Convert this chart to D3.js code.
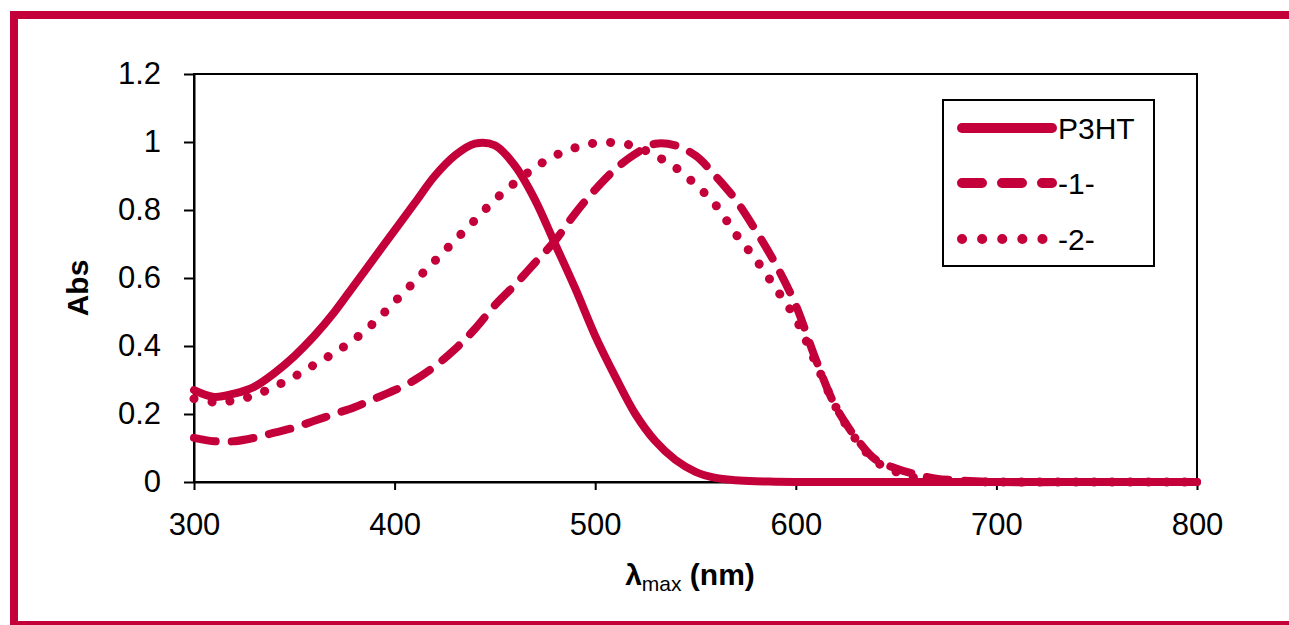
<!DOCTYPE html>
<html>
<head>
<meta charset="utf-8">
<script src="https://cdn.jsdelivr.net/npm/d3@7"></script>
<style>
  body { margin: 0; background: #fff; }
  svg { display: block; font-family: "Liberation Sans", Arial, sans-serif; }
</style>
</head>
<body>
<script>
// wavelength grid (nm) and absorbance of each sample
const wavelengths = [300, 310, 320, 330, 340, 350, 360, 370, 380, 390, 400, 410, 420, 430, 440, 450,
  460, 470, 480, 490, 500, 510, 520, 530, 540, 550, 560, 570, 580, 590, 600, 610, 620, 630, 640,
  650, 660, 670, 680, 700, 750, 800];
const p3ht = [0.27, 0.25, 0.26, 0.28, 0.32, 0.37, 0.43, 0.50, 0.58, 0.66, 0.74, 0.82, 0.90, 0.96, 0.995, 0.99,
  0.93, 0.83, 0.70, 0.57, 0.43, 0.31, 0.20, 0.12, 0.065, 0.03, 0.012, 0.005, 0.002, 0.001, 0, 0, 0, 0, 0,
  0, 0, 0, 0, 0, 0, 0];
const comp1 = [0.13, 0.12, 0.12, 0.13, 0.145, 0.16, 0.18, 0.20, 0.22, 0.245, 0.27, 0.30, 0.34, 0.39, 0.45, 0.52,
  0.58, 0.645, 0.71, 0.79, 0.86, 0.92, 0.965, 0.995, 0.99, 0.96, 0.9, 0.83, 0.74, 0.64, 0.52, 0.36, 0.22, 0.13, 0.065,
  0.04, 0.022, 0.01, 0.005, 0, 0, 0];
const comp2 = [0.245, 0.235, 0.24, 0.255, 0.28, 0.31, 0.345, 0.38, 0.42, 0.47, 0.53, 0.59, 0.65, 0.71, 0.77, 0.83,
  0.88, 0.925, 0.96, 0.983, 0.997, 0.998, 0.987, 0.96, 0.925, 0.875, 0.815, 0.73, 0.655, 0.57, 0.48, 0.35, 0.22, 0.125, 0.06,
  0.03, 0.012, 0.005, 0.002, 0, 0, 0];
const seriesNames = ["P3HT", "-1-", "-2-"];
const xTicks = [300, 400, 500, 600, 700, 800];
const yTicks = [0, 0.2, 0.4, 0.6, 0.8, 1, 1.2];

const W = 1289, H = 625;
const red = "#c4003a";

const svg = d3.select("body").append("svg")
  .attr("width", W)
  .attr("height", H);

// frame around the slide
svg.append("rect").attr("x", 10).attr("y", 11).attr("width", W - 10).attr("height", 8).attr("fill", red);
svg.append("rect").attr("x", 10).attr("y", 11).attr("width", 8).attr("height", H - 11).attr("fill", red);
svg.append("rect").attr("x", 10).attr("y", 621).attr("width", W - 10).attr("height", 4).attr("fill", red);

const xScale = d3.scaleLinear().domain([300, 800]).range([194, 1197]);
const yScale = d3.scaleLinear().domain([0, 1.2]).range([482, 74]);

// plot area border
svg.append("rect")
  .attr("x", xScale(300)).attr("y", yScale(1.2))
  .attr("width", xScale(800) - xScale(300))
  .attr("height", yScale(0) - yScale(1.2))
  .attr("fill", "none").attr("stroke", "#000").attr("stroke-width", 2);

const yAxis = d3.axisLeft(yScale).tickValues(yTicks).tickFormat(d => String(+d.toFixed(1)))
  .tickSize(10).tickSizeOuter(0).tickPadding(23);
svg.append("g").attr("transform", "translate(" + xScale(300) + ",0)").call(yAxis);

const xAxis = d3.axisBottom(xScale).tickValues(xTicks).tickFormat(d3.format("d"))
  .tickSize(8).tickSizeOuter(0).tickPadding(23);
svg.append("g").attr("transform", "translate(0," + yScale(0) + ")").call(xAxis);

svg.selectAll(".tick line").attr("stroke", "#000").attr("stroke-width", 2);
svg.selectAll(".domain").attr("stroke", "#000").attr("stroke-width", 2);
svg.selectAll(".tick text").attr("font-size", 31).attr("fill", "#000")
  .attr("font-family", "Liberation Sans, Arial, sans-serif");

// axis titles
svg.append("text")
  .attr("transform", "translate(88,288) rotate(-90)")
  .attr("text-anchor", "middle")
  .attr("font-size", 30).attr("font-weight", "bold")
  .text("Abs");

const xt = svg.append("text").attr("x", 690).attr("y", 585)
  .attr("text-anchor", "middle").attr("font-size", 30).attr("font-weight", "bold");
xt.append("tspan").text("λ");
xt.append("tspan").attr("font-size", 21).attr("font-weight", "normal").attr("dy", 6).text("max");
xt.append("tspan").attr("dy", -6).text(" (nm)");

// curves
const styles = [
  { data: p3ht, dash: null, width: 8 },
  { data: comp1, dash: "22,16", width: 8 },
  { data: comp2, dash: "0.1,18", width: 9 }
];

const line = d3.line()
  .x((d, i) => xScale(wavelengths[i]))
  .y(d => yScale(Math.max(0, d)))
  .curve(d3.curveCatmullRom.alpha(0.5));

styles.forEach(s => {
  svg.append("path")
    .datum(s.data)
    .attr("d", line)
    .attr("fill", "none")
    .attr("stroke", red)
    .attr("stroke-width", s.width)
    .attr("stroke-linecap", "round")
    .attr("stroke-linejoin", "round")
    .attr("stroke-dasharray", s.dash);
});

// legend
const lg = svg.append("g");
lg.append("rect").attr("x", 943).attr("y", 100).attr("width", 211).attr("height", 166)
  .attr("fill", "#fff").attr("stroke", "#000").attr("stroke-width", 2);
const legendY = [128, 183, 239];
seriesNames.forEach((name, i) => {
  lg.append("line")
    .attr("x1", 962).attr("x2", 1052)
    .attr("y1", legendY[i]).attr("y2", legendY[i])
    .attr("stroke", red)
    .attr("stroke-width", 10)
    .attr("stroke-linecap", "round")
    .attr("stroke-dasharray", i === 0 ? null : (i === 1 ? "20,20" : "0.1,20"));
  lg.append("text")
    .attr("x", 1058).attr("y", legendY[i] + 11)
    .attr("font-size", 30)
    .text(name);
});
</script>
</body>
</html>
